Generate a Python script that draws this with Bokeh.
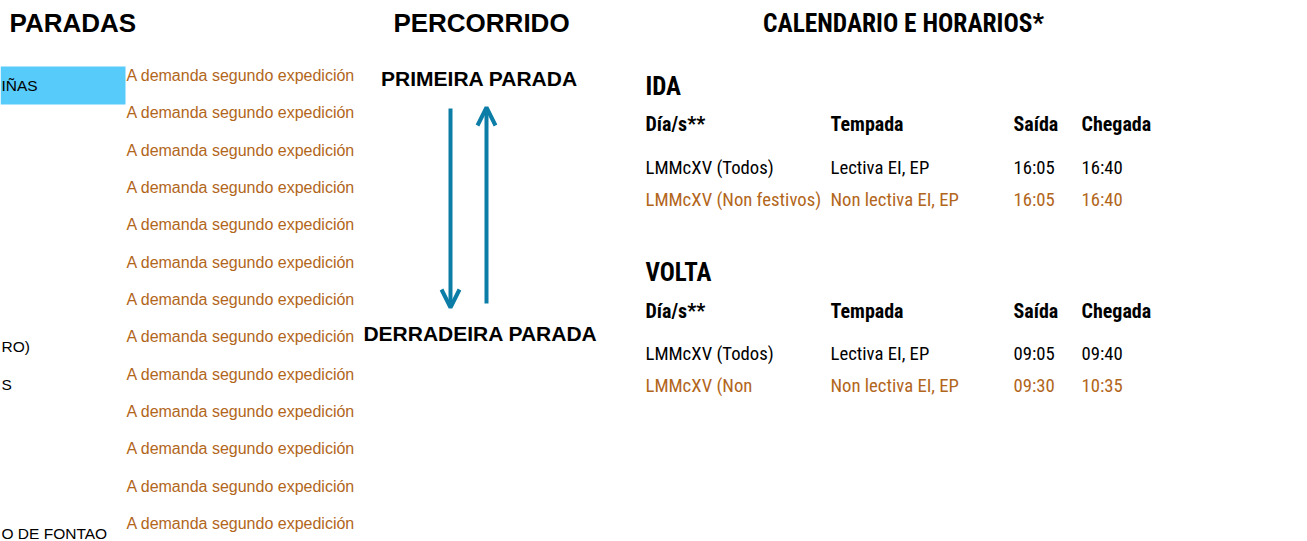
from bokeh.plotting import figure
from bokeh.models import ColumnDataSource, Range1d, Arrow, OpenHead
from bokeh.core.properties import value
from bokeh.embed import file_html
from bokeh.resources import INLINE

# ---------------- data ----------------
section_titles = ["PARADAS", "PERCORRIDO", "CALENDARIO E HORARIOS*"]
stop_names = ["IÑAS", "", "", "", "", "", "", "RO)", "S", "", "", "", "O DE FONTAO"]
stop_notes = ["A demanda segundo expedición"] * 13
highlighted_stop = 0
route_ends = ["PRIMEIRA PARADA", "DERRADEIRA PARADA"]
directions = ["IDA", "VOLTA"]
table_headers = ["Día/s**", "Tempada", "Saída", "Chegada"]
ida_days = ["LMMcXV (Todos)", "LMMcXV (Non festivos)"]
ida_seasons = ["Lectiva EI, EP", "Non lectiva EI, EP"]
ida_departures = ["16:05", "16:05"]
ida_arrivals = ["16:40", "16:40"]
volta_days = ["LMMcXV (Todos)", "LMMcXV (Non"]
volta_seasons = ["Lectiva EI, EP", "Non lectiva EI, EP"]
volta_departures = ["09:05", "09:30"]
volta_arrivals = ["09:40", "10:35"]
row_is_holiday_variant = [False, True]

# ---------------- style / layout ----------------
W, H = 1307, 541
BLACK = "#000000"
ORANGE = "#B2661B"
BLUE = "#0C7DA6"
HILITE = "#57CCFB"
SANS = "Liberation Sans"
NARROW = "Roboto Condensed, Liberation Sans"

p = figure(width=W, height=H, x_range=Range1d(0, W), y_range=Range1d(H, 0),
           output_backend="svg", toolbar_location=None, tools="", min_border=0)
p.xaxis.visible = False
p.yaxis.visible = False
p.grid.visible = False
p.outline_line_color = None
p.background_fill_color = "white"
p.border_fill_color = "white"
p.styles = {"position": "absolute", "left": "0px", "top": "0px"}


def txt(xs, ys, texts, size, colors, bold=False, font=SANS, align="left"):
    if isinstance(colors, str):
        colors = [colors] * len(texts)
    src = ColumnDataSource(dict(x=xs, y=ys, t=texts, c=colors))
    p.text("x", "y", text="t", source=src, text_color="c",
           text_font=value(font), text_font_size=f"{size}px",
           text_font_style="bold" if bold else "normal",
           text_align=align, text_baseline="middle")


# section titles
title_y = 22
txt([9], [title_y], section_titles[:1], 26, BLACK, bold=True, align="left")
txt([481], [title_y], section_titles[1:2], 26, BLACK, bold=True, align="center")
txt([903], [title_y], section_titles[2:], 25.4, BLACK, bold=True, font=NARROW, align="center")

# stops column
stop_y0, stop_dy = 75, 37.33
n = len(stop_notes)
note_y = [stop_y0 + i * stop_dy for i in range(n)]
name_y = [y + 10 for y in note_y]
hy = note_y[highlighted_stop] + 10
p.quad(left=[0], right=[125], top=[hy - 19], bottom=[hy + 19],
       fill_color=HILITE, line_color=None)
txt([1] * n, name_y, stop_names, 15.5, BLACK)
txt([126] * n, note_y, stop_notes, 16, ORANGE)

# route
txt([479, 480], [78, 333], route_ends, 21, BLACK, bold=True, align="center")
p.add_layout(Arrow(end=OpenHead(size=18, line_color=BLUE, line_width=4),
                   x_start=450, y_start=108, x_end=450, y_end=307,
                   line_color=BLUE, line_width=4))
p.add_layout(Arrow(end=OpenHead(size=18, line_color=BLUE, line_width=4),
                   x_start=486, y_start=303, x_end=486, y_end=107,
                   line_color=BLUE, line_width=4))

# timetable
cols = [645, 830, 1013, 1081]
blocks = [
    (directions[0], 86, 123, [167, 199], [ida_days, ida_seasons, ida_departures, ida_arrivals]),
    (directions[1], 272, 310, [353, 385], [volta_days, volta_seasons, volta_departures, volta_arrivals]),
]
row_colors = [ORANGE if h else BLACK for h in row_is_holiday_variant]
for label, ly, hy2, rys, columns in blocks:
    txt([cols[0]], [ly], [label], 25, BLACK, bold=True, font=NARROW)
    txt(cols, [hy2] * 4, table_headers, 20, BLACK, bold=True, font=NARROW)
    for cx, col in zip(cols, columns):
        txt([cx] * len(col), rys, col, 18.7, row_colors, font=NARROW)

open("out.html", "w").write(file_html(p, INLINE))
